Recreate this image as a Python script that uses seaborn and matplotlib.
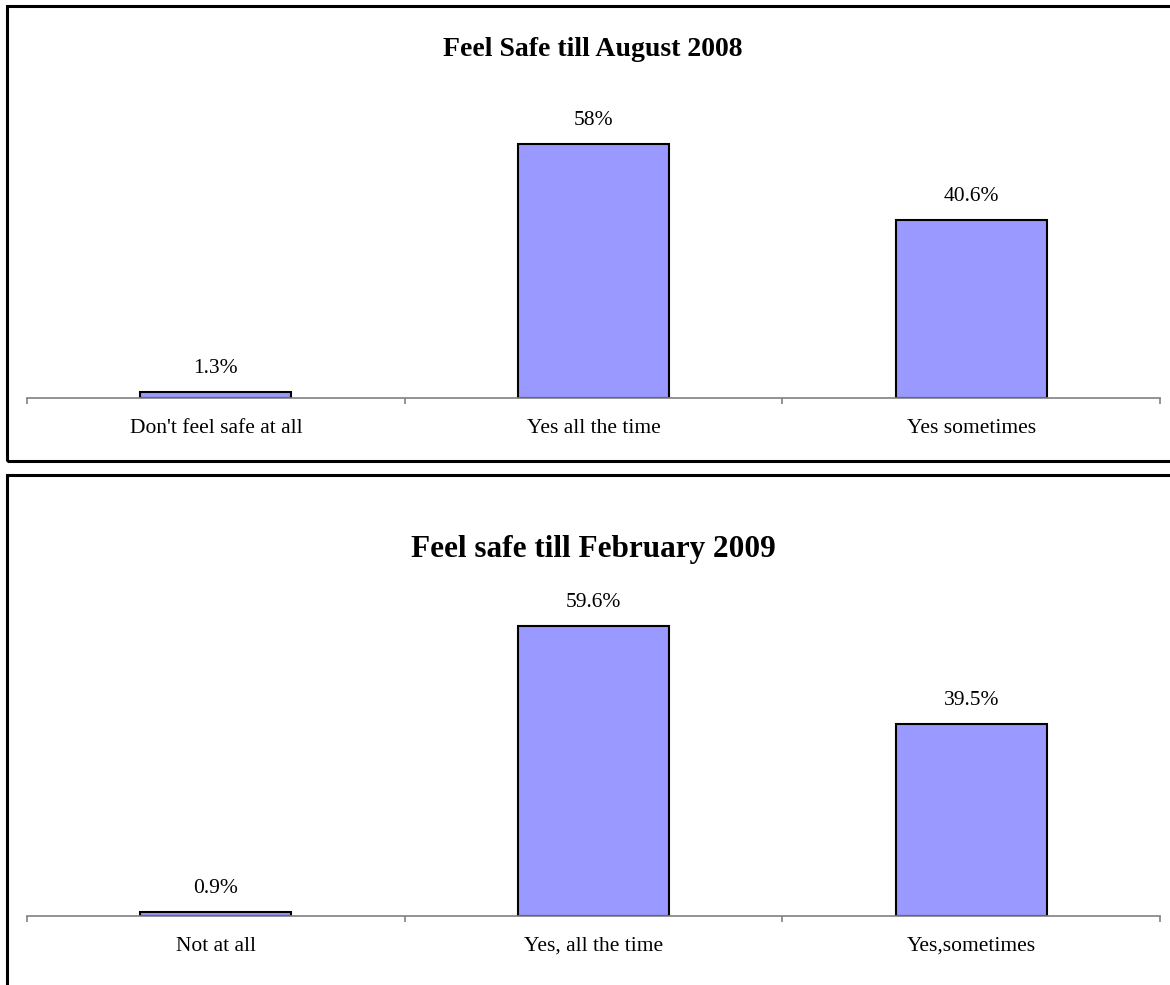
import matplotlib
matplotlib.use("Agg")
import matplotlib.pyplot as plt
import seaborn as sns
import pandas as pd
from matplotlib.patches import Rectangle

# data
cats_2008 = ["Don't feel safe at all", "Yes all the time", "Yes sometimes"]
vals_2008 = [1.3, 58, 40.6]
labels_2008 = ["1.3%", "58%", "40.6%"]

cats_2009 = ["Not at all", "Yes, all the time", "Yes,sometimes"]
vals_2009 = [0.9, 59.6, 39.5]
labels_2009 = ["0.9%", "59.6%", "39.5%"]

sns.set_style("white")
plt.rcParams["font.family"] = ["Liberation Serif", "DejaVu Serif"]
plt.rcParams["text.color"] = "black"
plt.rcParams["xtick.labelcolor"] = "black"

W, H = 1170, 985
fig = plt.figure(figsize=(W / 100, H / 100), dpi=100)


def px_axes(left, base, right, height):
    # pixel coordinates measured from top-left of the picture
    return fig.add_axes([left / W, (H - base) / H, (right - left) / W, height / H])


def draw_panel(ax, cats, vals, labels, ymax):
    df = pd.DataFrame({"cat": cats, "val": vals})
    sns.barplot(data=df, x="cat", y="val", color="#9999FF", saturation=1,
                width=0.4, edgecolor="black", linewidth=1.5, ax=ax)
    ax.set_xlim(-0.5, 2.5)
    ax.set_ylim(0, ymax)
    for s in ["top", "left", "right"]:
        ax.spines[s].set_visible(False)
    ax.spines["bottom"].set_color("#808080")
    ax.spines["bottom"].set_linewidth(1.2)
    ax.set_yticks([])
    ax.set_xlabel("")
    ax.set_ylabel("")
    ax.set_xticks([0, 1, 2])
    ax.set_xticklabels(cats, fontsize=15.5, color="black")
    ax.tick_params(axis="x", which="major", length=0, pad=15, bottom=True)
    ax.set_xticks([-0.5, 0.5, 1.5, 2.5], minor=True)
    ax.tick_params(axis="x", which="minor", length=4, width=1.2, bottom=True,
                   color="#808080", direction="out")
    for i, (v, lab) in enumerate(zip(vals, labels)):
        ax.annotate(lab, (i, v), xytext=(0, 10), textcoords="offset points",
                    ha="center", va="bottom", fontsize=15.5, color="black")
    ax.patch.set_alpha(0)


ax1 = px_axes(27, 398, 1160, 306.6)
draw_panel(ax1, cats_2008, vals_2008, labels_2008, 70)

ax2 = px_axes(27, 916, 1160, 340.9)
draw_panel(ax2, cats_2009, vals_2009, labels_2009, 70)

fig.text(593 / W, 1 - 49 / H, "Feel Safe till August 2008", ha="center",
         va="center", fontsize=20, fontweight="bold", color="black")
fig.text(593 / W, 1 - 549 / H, "Feel safe till February 2009", ha="center",
         va="center", fontsize=22.5, fontweight="bold", color="black")

# panel frames
fig.add_artist(Rectangle((6.5 / W, 1 - 461 / H), 1.2, (461 - 6) / H,
                         transform=fig.transFigure, fill=False,
                         edgecolor="black", linewidth=2.2))
fig.add_artist(Rectangle((6.5 / W, -0.2), 1.2, 0.2 + (H - 475) / H,
                         transform=fig.transFigure, fill=False,
                         edgecolor="black", linewidth=2.2))

fig.savefig("out.png", dpi=100)
